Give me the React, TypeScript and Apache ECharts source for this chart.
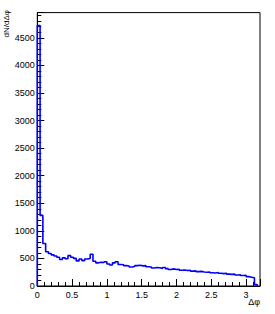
import React, { useEffect, useRef } from "react";
import * as echarts from "echarts";

const binWidth = 0.04;
const binStart = 0;
// counts per bin of width 0.04 starting at 0
const counts = [
  4720, 1280, 770, 620, 590, 565, 545, 520, 480, 510,
  495, 550, 520, 500, 455, 490, 460, 490, 500, 575,
  450, 420, 430, 425, 440, 400, 380, 420, 440, 390,
  385, 370, 360, 345, 355, 370, 375, 365, 370, 350,
  345, 325, 335, 330, 320, 335, 315, 300, 310, 300,
  305, 285, 290, 280, 285, 270, 275, 260, 265, 255,
  250, 255, 240, 235, 245, 230, 225, 230, 215, 210,
  215, 200, 205, 190, 195, 170, 160, 150, 25,
];
const xTitle = "Δφ";
const yTitle = "dN/dΔφ";

export default function App() {
  const ref = useRef<HTMLDivElement>(null);
  useEffect(() => {
    if (!ref.current) return;
    const chart = echarts.init(ref.current, undefined, { renderer: "svg" });
    const pts: [number, number][] = [[binStart, 0]];
    counts.forEach((c, i) => pts.push([binStart + i * binWidth, c]));
    const endX = binStart + counts.length * binWidth;
    pts.push([endX, 0]);
    const font = "Liberation Sans, Arial, sans-serif";
    chart.setOption({
      animation: false,
      grid: {
        left: 37.3,
        right: 15,
        top: 12.6,
        bottom: 28,
        show: true,
        borderColor: "#000",
        borderWidth: 1,
        backgroundColor: "transparent",
      },
      xAxis: {
        type: "value",
        min: 0,
        max: 3.2,
        interval: 0.5,
        axisLine: { show: true, onZero: false, lineStyle: { color: "#000", width: 1 } },
        axisTick: { show: true, inside: true, length: 7, lineStyle: { color: "#000" } },
        minorTick: { show: true, splitNumber: 5, length: 4, lineStyle: { color: "#000" } },
        splitLine: { show: false },
        axisLabel: {
          color: "#000",
          fontSize: 9,
          fontFamily: font,
          margin: 4,
          showMaxLabel: false,
        },
      },
      yAxis: {
        type: "value",
        min: 0,
        max: 4956,
        interval: 500,
        name: yTitle,
        nameLocation: "end",
        nameRotate: 90,
        nameGap: 2.6,
        nameTextStyle: {
          color: "#000",
          fontSize: 8,
          fontFamily: font,
          align: "right",
          verticalAlign: "bottom",
          padding: [0, 0, 27, 0],
        },
        axisLine: { show: true, onZero: false, lineStyle: { color: "#000", width: 1 } },
        axisTick: { show: true, inside: true, length: 7, lineStyle: { color: "#000" } },
        minorTick: { show: true, splitNumber: 5, length: 4, lineStyle: { color: "#000" } },
        splitLine: { show: false },
        axisLabel: {
          color: "#000",
          fontSize: 9,
          fontFamily: font,
          margin: 2.5,
          showMaxLabel: false,
          formatter: (v: number) => String(v),
        },
      },
      graphic: [
        {
          type: "text",
          x: 260,
          y: 297,
          style: {
            text: xTitle,
            fill: "#000",
            font: `9px ${font}`,
            align: "right",
            verticalAlign: "top",
          },
        },
      ],
      series: [
        {
          type: "line",
          step: "end",
          data: pts,
          showSymbol: false,
          symbol: "none",
          lineStyle: { color: "#0000ff", width: 1.6 },
          clip: false,
        },
      ],
    });
    return () => chart.dispose();
  }, []);
  return (
    <div
      ref={ref}
      style={{ position: "fixed", left: 0, top: 0, width: 275, height: 314, background: "#fff" }}
    />
  );
}
